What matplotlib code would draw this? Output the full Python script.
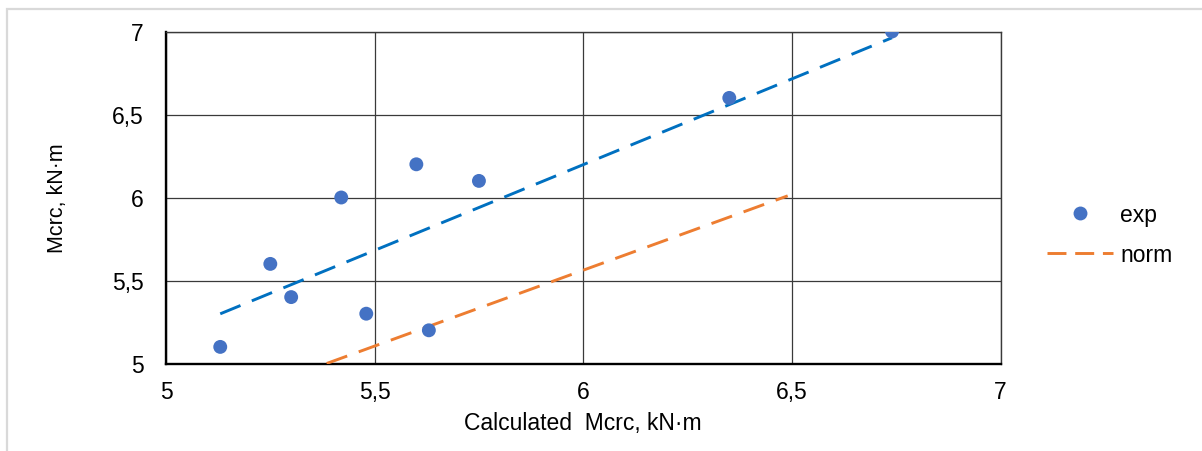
import matplotlib
matplotlib.use("Agg")
import matplotlib.pyplot as plt
import numpy as np
from matplotlib.lines import Line2D
from matplotlib.patches import Rectangle

# Data
exp_x = [5.13, 5.25, 5.30, 5.42, 5.48, 5.60, 5.63, 5.75, 6.35, 6.74]
exp_y = [5.10, 5.60, 5.40, 6.00, 5.30, 6.20, 5.20, 6.10, 6.60, 7.00]
norm_x = [5.385, 6.49]
norm_y = [5.00, 6.01]
x_ticks = [5, 5.5, 6, 6.5, 7]
x_ticklabels = ["5", "5,5", "6", "6,5", "7"]
y_ticks = [5, 5.5, 6, 6.5, 7]
y_ticklabels = ["5", "5,5", "6", "6,5", "7"]

plt.rcParams['font.family'] = ['Liberation Sans', 'DejaVu Sans']

W, H = 1202, 452
fig = plt.figure(figsize=(W / 100, H / 100), dpi=100)
ax_left, ax_right, ax_top, ax_bottom = 166, 1000.5, 32.5, 364.5
ax = fig.add_axes([ax_left / W, 1 - ax_bottom / H, (ax_right - ax_left) / W, (ax_bottom - ax_top) / H])

# outer chart border
fig.patches.append(Rectangle((7 / W, -0.1), 1.2, 1 - 9.5 / H + 0.1, transform=fig.transFigure,
                             fill=False, edgecolor='#d9d9d9', linewidth=1.6, zorder=0))

blue = '#0070C0'
orange = '#ED7D31'
marker_blue = '#4472C4'
lw = 2.1
dash = (7.5, 4.2)

# linear trendline for exp (intercept fixed at zero)
ex = np.array(exp_x)
ey = np.array(exp_y)
slope = np.sum(ex * ey) / np.sum(ex * ex)
tx = np.array([ex.min(), ex.max()])
ax.plot(tx, slope * tx, color=blue, lw=lw, dashes=dash, zorder=3, dash_capstyle='butt')

ax.plot(norm_x, norm_y, color=orange, lw=lw, dashes=dash, zorder=3, dash_capstyle='butt')

ax.scatter(exp_x, exp_y, s=100, color=marker_blue, edgecolors='none', zorder=4)

ax.set_xlim(5, 7)
ax.set_ylim(5, 7)
ax.set_xticks(x_ticks)
ax.set_xticklabels(x_ticklabels)
ax.set_yticks(y_ticks)
ax.set_yticklabels(y_ticklabels)
ax.tick_params(axis='both', length=0, labelsize=16.5, colors='#000000')
ax.tick_params(axis='y', pad=16)
ax.tick_params(axis='x', pad=12)
ax.grid(True, color='#3a3a3a', linewidth=0.9)
ax.set_axisbelow(True)
for side in ['left', 'bottom']:
    ax.spines[side].set_linewidth(1.7)
    ax.spines[side].set_color('#000000')
for side in ['top', 'right']:
    ax.spines[side].set_linewidth(1.0)
    ax.spines[side].set_color('#3a3a3a')

ax.set_xlabel("Calculated  Mcrc, kN·m", fontsize=16.5, labelpad=6)
ax.set_ylabel("Mcrc, kN·m", fontsize=15.5, va='center')
ax.yaxis.set_label_coords(-(ax_left - 57) / (ax_right - ax_left), 0.5)

handles = [
    Line2D([], [], linestyle='none', marker='o', markersize=10, color=marker_blue, markeredgecolor='none'),
    Line2D([], [], color=orange, lw=lw, dashes=(6.5, 3.0)),
]
fig.legend(handles, ['exp', 'norm'], loc='center left', bbox_to_anchor=(1047 / W, 1 - 235.5 / H),
           frameon=False, fontsize=16.5, handlelength=2.9, handletextpad=0.3,
           labelspacing=0.7, borderpad=0, borderaxespad=0)

fig.savefig('out.png', dpi=100)
